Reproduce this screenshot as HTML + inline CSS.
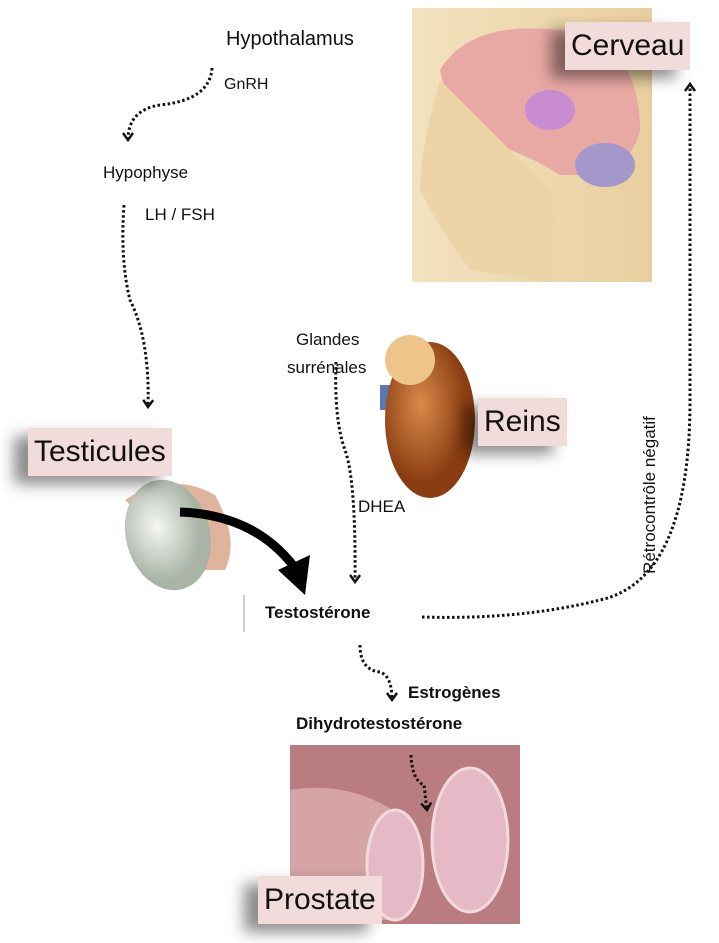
<!DOCTYPE html>
<html><head><meta charset="utf-8"><style>
body{margin:0;width:719px;height:943px;background:#fff;position:relative;overflow:hidden;font-family:"Liberation Sans",sans-serif}
.t{position:absolute;color:#111;white-space:nowrap}
.lbl{position:absolute;background:#f2dcdb;color:#111;font-size:30px;box-shadow:-14px 8px 14px rgba(0,0,0,.45);padding:0 6px;line-height:48px}
</style></head><body>
<svg width="719" height="943" style="position:absolute;left:0;top:0">
<defs><marker id="a" markerWidth="14" markerHeight="14" refX="8" refY="6" orient="auto" markerUnits="userSpaceOnUse"><path d="M1,1 L8,6 L1,11" fill="none" stroke="#111" stroke-width="2.5"/></marker>
<linearGradient id="br" x1="0" x2="1"><stop offset="0" stop-color="#f3e2bf"/><stop offset="1" stop-color="#e9cf9f"/></linearGradient>
<radialGradient id="ts" cx=".4" cy=".4"><stop offset="0" stop-color="#f5f7f3"/><stop offset="1" stop-color="#a9b3a6"/></radialGradient>
<radialGradient id="kd" cx=".4" cy=".4"><stop offset="0" stop-color="#d98a4a"/><stop offset="1" stop-color="#8a3d12"/></radialGradient></defs>
<rect x="412" y="8" width="240" height="274" fill="url(#br)"/>
<path d="M440,70 Q470,20 560,30 Q640,40 640,130 Q630,170 590,175 L560,175 Q520,150 480,140 Q450,120 440,70Z" fill="#e8a9a5"/>
<ellipse cx="550" cy="110" rx="25" ry="20" fill="#c98cd0"/>
<ellipse cx="605" cy="165" rx="30" ry="22" fill="#a497c9"/>
<path d="M440,80 Q420,150 420,190 Q440,230 470,270 L550,282 L560,200" fill="#edd4a8"/>
<path d="M380,385 L415,385 L415,410 L380,410Z" fill="#5a78b0"/>
<ellipse cx="430" cy="420" rx="45" ry="78" fill="url(#kd)"/>
<ellipse cx="410" cy="360" rx="25" ry="25" fill="#eec48a"/>
<path d="M125,500 Q170,470 215,495 Q240,540 225,570 L200,570 Z" fill="#e0b49c"/>
<ellipse cx="168" cy="535" rx="42" ry="56" fill="url(#ts)" transform="rotate(-15 168 535)"/>
<path d="M180,512 Q260,515 300,575" fill="none" stroke="#000" stroke-width="9"/>
<path d="M278,570 L310,555 L305,595Z" fill="#000"/>
<rect x="290" y="744" width="230" height="180" fill="#b97c80"/>
<path d="M290,790 Q350,780 400,815 L390,920 L290,920Z" fill="#d6a3a6"/>
<ellipse cx="395" cy="865" rx="28" ry="55" fill="#e6b9c6" stroke="#f3dada" stroke-width="3"/>
<ellipse cx="470" cy="840" rx="38" ry="72" fill="#e6b9c6" stroke="#f3dada" stroke-width="3"/>
<rect x="288" y="705" width="232" height="40" fill="#fff"/>
<line x1="244" y1="595" x2="244" y2="632" stroke="#999"/>
<g fill="none" stroke="#111" stroke-width="3" stroke-dasharray="2.5 2.5">
<path d="M212,68 Q210,100 160,105 Q128,110 128,140" marker-end="url(#a)"/>
<path d="M124,205 Q120,260 130,300 Q150,340 148,407" marker-end="url(#a)"/>
<path d="M336,362 Q334,420 345,450 Q356,480 355,582" marker-end="url(#a)"/>
<path d="M422,617 Q520,620 600,600 Q690,580 690,400 L690,84" marker-end="url(#a)"/>
<path d="M360,645 Q360,670 380,672 Q392,676 392,700" marker-end="url(#a)"/>
<path d="M411,755 Q412,780 424,785 L427,810" marker-end="url(#a)"/>
</g>
</svg>
<div class="lbl" style="left:565px;top:22px">Cerveau</div>
<div class="lbl" style="left:478px;top:398px">Reins</div>
<div class="lbl" style="left:28px;top:428px">Testicules</div>
<div class="lbl" style="left:258px;top:876px">Prostate</div>
<div class="t" style="left:226px;top:28px;font-size:20px">Hypothalamus</div>
<div class="t" style="left:224px;top:76px;font-size:16px">GnRH</div>
<div class="t" style="left:103px;top:163px;font-size:17px">Hypophyse</div>
<div class="t" style="left:145px;top:205px;font-size:17px">LH / FSH</div>
<div class="t" style="left:296px;top:330px;font-size:17px">Glandes</div>
<div class="t" style="left:287px;top:358px;font-size:17px">surrénales</div>
<div class="t" style="left:358px;top:497px;font-size:17px">DHEA</div>
<div class="t" style="left:265px;top:603px;font-size:17px;font-weight:bold">Testostérone</div>
<div class="t" style="left:408px;top:683px;font-size:17px;font-weight:bold">Estrogènes</div>
<div class="t" style="left:296px;top:714px;font-size:17px;font-weight:bold">Dihydrotestostérone</div>
<div class="t" style="left:550px;top:485px;font-size:17px;width:200px;text-align:center;transform:rotate(-90deg)">Rétrocontrôle négatif</div>
</body></html>
